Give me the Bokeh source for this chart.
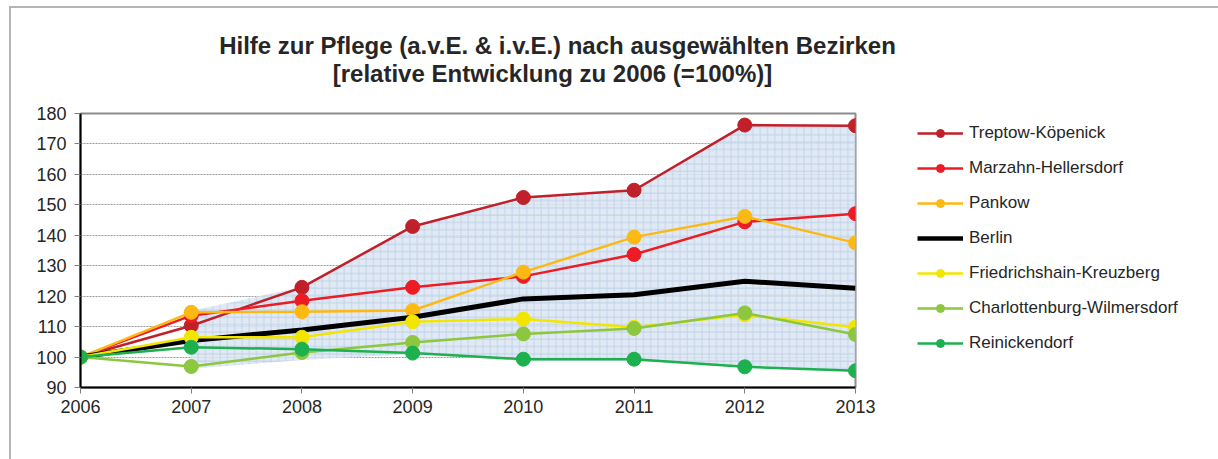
import numpy as np
from bokeh.plotting import figure
from bokeh.layouts import column, row
from bokeh.models import Range1d, Legend, LegendItem, Label, FixedTicker, ColumnDataSource
from bokeh.embed import file_html
from bokeh.resources import INLINE

years = [2006, 2007, 2008, 2009, 2010, 2011, 2012, 2013]
treptow = [100, 110.3, 122.9, 142.9, 152.4, 154.8, 176.2, 176.0]
marzahn = [100, 113.6, 118.5, 122.9, 126.5, 133.7, 144.4, 147.1]
pankow = [100, 114.7, 114.9, 115.3, 127.9, 139.4, 146.2, 137.5]
berlin = [100, 105.4, 108.9, 113.1, 119.1, 120.5, 124.9, 122.6]
friedrichshain = [100, 106.5, 106.5, 111.6, 112.5, 109.8, 113.9, 109.8]
charlottenburg = [100, 96.9, 101.5, 104.8, 107.6, 109.4, 114.5, 107.4]
reinickendorf = [100, 103.2, 102.6, 101.3, 99.3, 99.3, 96.8, 95.5]
band_years = [2007, 2008, 2009, 2010, 2011, 2012, 2013]
band_upper = [115.2, 123.0, 142.9, 152.4, 154.8, 176.2, 176.0]
band_lower = [96.2, 99.0, 101.0, 98.8, 98.8, 96.6, 95.4]
y_ticks = [90, 100, 110, 120, 130, 140, 150, 160, 170, 180]

names = ["Treptow-Köpenick", "Marzahn-Hellersdorf", "Pankow", "Berlin",
         "Friedrichshain-Kreuzberg", "Charlottenburg-Wilmersdorf", "Reinickendorf"]
series = [treptow, marzahn, pankow, berlin, friedrichshain, charlottenburg, reinickendorf]
colors = ["#C0202A", "#ED1C24", "#FDB913", "#000000", "#F2E600", "#8DC63F", "#1DB04F"]
title_lines = ["Hilfe zur Pflege (a.v.E. & i.v.E.) nach ausgewählten Bezirken",
               "[relative Entwicklung zu 2006 (=100%)]"]

FONT = "Liberation Sans"
TXT = "#262626"

# ---------- title strip ----------
TW, TH = 1207, 93
t = figure(width=TW, height=TH, output_backend="svg", toolbar_location=None,
           x_range=Range1d(0, TW), y_range=Range1d(0, TH), x_axis_type=None, y_axis_type=None,
           min_border=0, min_border_left=0, min_border_right=0, min_border_top=0, min_border_bottom=0)
t.outline_line_color = None
for txt, cx, cy in zip(title_lines, [546, 541], [56, 28]):
    t.add_layout(Label(x=cx, y=cy, text=txt, text_font=FONT, text_font_size="24px",
                       text_font_style="bold", text_color=TXT,
                       text_align="center", text_baseline="middle"))

# ---------- main chart ----------
p = figure(width=874, height=358, output_backend="svg", toolbar_location=None,
           x_range=Range1d(2006, 2013), y_range=Range1d(90, 180),
           min_border_left=69, min_border_right=30, min_border_top=12, min_border_bottom=72)
p.outline_line_color = "#8c8c8c"
p.outline_line_width = 2

p.varea(x=band_years, y1=band_lower, y2=band_upper, fill_color="#DCE6F2", fill_alpha=0.85,
        hatch_pattern="cross", hatch_color="#B9CDE5", hatch_scale=7.3, hatch_weight=1, hatch_alpha=0.8)

for name, vals, col in zip(names, series, colors):
    src = ColumnDataSource(dict(x=years, y=vals))
    if name == "Berlin":
        p.line("x", "y", source=src, line_color=col, line_width=5)
    else:
        p.line("x", "y", source=src, line_color=col, line_width=2.5)
        p.scatter("x", "y", source=src, size=14, fill_color=col, line_color=col)

p.xaxis.ticker = FixedTicker(ticks=years)
p.yaxis.ticker = FixedTicker(ticks=y_ticks)
for ax in (p.xaxis, p.yaxis):
    ax.axis_line_color = "#000000"
    ax.axis_line_width = 2
    ax.major_tick_line_color = "#7f7f7f"
    ax.major_tick_in = 0
    ax.major_tick_out = 6
    ax.minor_tick_line_color = None
    ax.major_label_text_font = FONT
    ax.major_label_text_font_size = "18px"
    ax.major_label_text_color = TXT
p.xaxis.major_label_standoff = 6
p.yaxis.major_label_standoff = 8
p.xgrid.grid_line_color = None
p.ygrid.grid_line_color = "#9a9a9a"
p.ygrid.grid_line_dash = "2 1"
p.ygrid.grid_line_width = 1

# ---------- legend panel (frame aligned with the chart frame) ----------
q = figure(width=333, height=358, output_backend="svg", toolbar_location=None,
           x_range=Range1d(0, 1), y_range=Range1d(0, 1), x_axis_type=None, y_axis_type=None,
           min_border=0, min_border_left=0, min_border_right=0, min_border_top=0, min_border_bottom=0)
q.outline_line_color = None
nan = np.array([np.nan])
items = []
for name, col in zip(names, colors):
    if name == "Berlin":
        lg = [q.line(x=nan, y=nan, line_color=col, line_width=4.5)]
    else:
        lg = [q.line(x=nan, y=nan, line_color=col, line_width=2.5),
              q.scatter(x=nan, y=nan, size=10, fill_color=col, line_color=col)]
    items.append(LegendItem(label=name, renderers=lg))
legend = Legend(items=items, location=(32, 34), padding=0, margin=0, spacing=15,
                glyph_width=46, glyph_height=20, label_height=20, label_standoff=6,
                label_text_font=FONT, label_text_font_size="17px", label_text_color=TXT,
                border_line_color=None, background_fill_alpha=0)
q.add_layout(legend, "center")

layout = column(t, row(p, q, spacing=0), spacing=0)
layout.margin = (6, 0, 0, 9)
layout.styles = {"border-left": "2px solid #b4b4b4", "border-top": "2px solid #b4b4b4"}

open("out.html", "w").write(file_html(layout, INLINE))
